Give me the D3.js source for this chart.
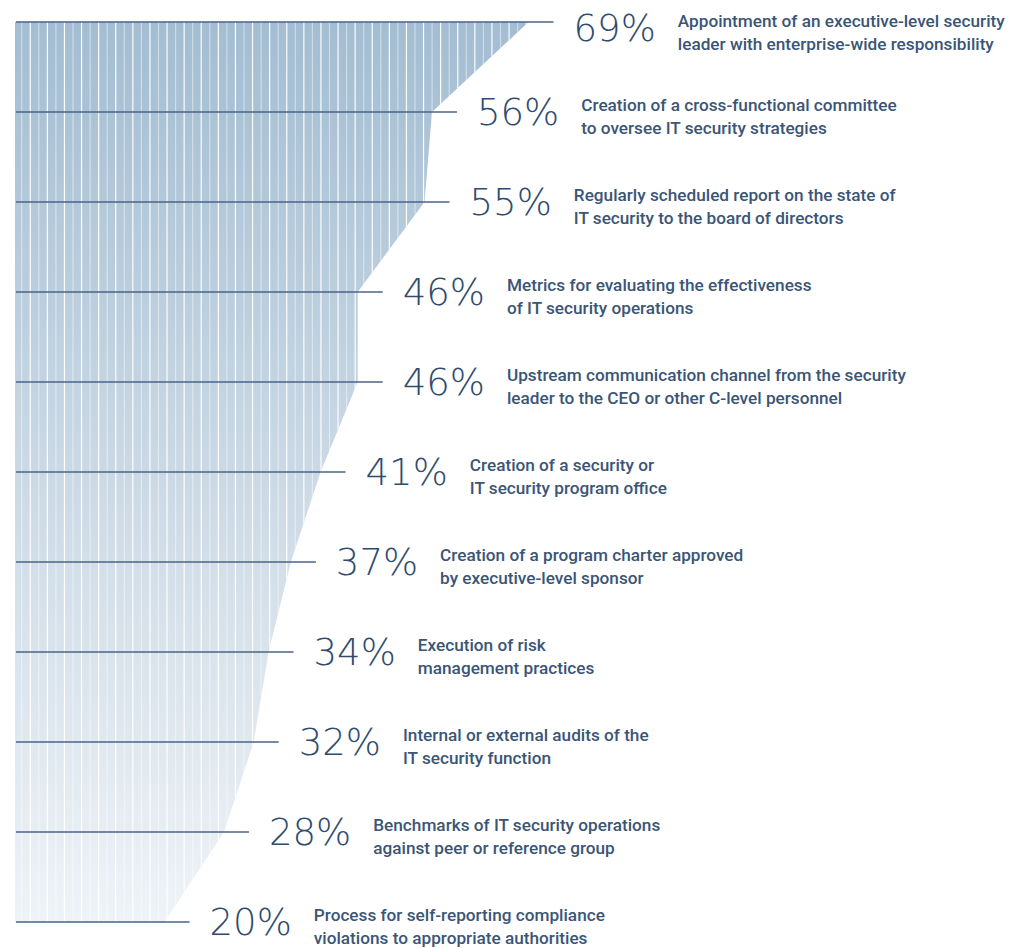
<!DOCTYPE html>
<html lang="en">
<head>
    <meta charset="UTF-8">
    <title>IT security governance practices</title>
    <script src="https://d3js.org/d3.v7.min.js"></script>
    <style>
        body {
            margin: 0;
            background: #fff;
            overflow: hidden;
        }
        .rule {
            stroke: #4a6587;
            stroke-width: 1.4px;
        }
        .pct {
            font-family: 'DejaVu Sans', sans-serif;
            font-weight: 200;
            font-size: 37px;
            fill: #2f4c6e;
        }
        .label {
            font-family: 'Roboto', sans-serif;
            font-weight: 500;
            font-size: 17.2px;
            fill: #3a5576;
        }
    </style>
</head>
<body>
<div id="chart"></div>

<script>
    // share of respondents for each practice
    const practices = [
        "Appointment of an executive-level security|leader with enterprise-wide responsibility",
        "Creation of a cross-functional committee|to oversee IT security strategies",
        "Regularly scheduled report on the state of|IT security to the board of directors",
        "Metrics for evaluating the effectiveness|of IT security operations",
        "Upstream communication channel from the security|leader to the CEO or other C-level personnel",
        "Creation of a security or|IT security program office",
        "Creation of a program charter approved|by executive-level sponsor",
        "Execution of risk|management practices",
        "Internal or external audits of the|IT security function",
        "Benchmarks of IT security operations|against peer or reference group",
        "Process for self-reporting compliance|violations to appropriate authorities"
    ];
    const values = [69, 56, 55, 46, 46, 41, 37, 34, 32, 28, 20];

    const width = 1019, height = 948;
    const left = 15;

    const svg = d3.select("#chart").append("svg")
        .attr("width", width)
        .attr("height", height);

    const x = d3.scaleLinear().domain([0, 70]).range([41, 561]);
    const y = d3.scalePoint().domain(d3.range(values.length)).range([22, 922]);

    const rows = values.map((v, i) => ({v: v, i: i, text: practices[i].split("|")}));

    // gradient fill, dark at the top fading out at the bottom
    const defs = svg.append("defs");
    const grad = defs.append("linearGradient")
        .attr("id", "fade")
        .attr("x1", 0).attr("y1", 0).attr("x2", 0).attr("y2", 1);
    grad.append("stop").attr("offset", 0).attr("stop-color", "#a3bdd2");
    grad.append("stop").attr("offset", 0.5).attr("stop-color", "#cbd9e5");
    grad.append("stop").attr("offset", 1).attr("stop-color", "#eef3f7");

    // the stepped outline follows the values, a bit short of the rule ends
    const edge = rows.map(d => [x(d.v) - 25, y(d.i)]);
    const outline = edge.concat([[left, y(values.length - 1)], [left, y(0)]]);
    const areaPath = d3.line()(outline) + "Z";

    defs.append("clipPath").attr("id", "shape")
        .append("path").attr("d", areaPath);

    svg.append("path")
        .attr("d", areaPath)
        .attr("fill", "url(#fade)");

    // thin vertical stripes, alternating white and half-white
    const stripes = d3.range(21.7, 560, 8.55);
    svg.append("g")
        .attr("clip-path", "url(#shape)")
        .selectAll("line")
        .data(stripes)
        .enter().append("line")
        .attr("x1", d => d).attr("x2", d => d)
        .attr("y1", y(0)).attr("y2", y(values.length - 1))
        .attr("stroke", "#fff")
        .attr("stroke-width", 1.2)
        .attr("stroke-opacity", (d, i) => i % 2 ? 0.95 : 0.45);

    // rules and labels
    const row = svg.append("g").selectAll("g")
        .data(rows)
        .enter().append("g");

    row.append("line")
        .attr("class", "rule")
        .attr("x1", left + 1)
        .attr("x2", d => x(d.v))
        .attr("y1", d => y(d.i))
        .attr("y2", d => y(d.i));

    // the first row sits a little lower so it is not cut at the top
    const shift = i => i === 0 ? 6 : 0;

    row.append("text")
        .attr("class", "pct")
        .attr("x", d => x(d.v) + 20)
        .attr("y", d => y(d.i) + 13 + shift(d.i))
        .text(d => d.v + "%");

    row.each(function(d) {
        const g = d3.select(this);
        const pw = g.select(".pct").node().getComputedTextLength();
        const tx = x(d.v) + 20 + pw + 22;
        const t = g.append("text")
            .attr("class", "label")
            .attr("y", y(d.i) - 1.5 + shift(d.i));
        t.selectAll("tspan")
            .data(d.text)
            .enter().append("tspan")
            .attr("x", tx)
            .attr("dy", (s, k) => k === 0 ? 0 : 23.5)
            .text(s => s);
    });
</script>
</body>
</html>
